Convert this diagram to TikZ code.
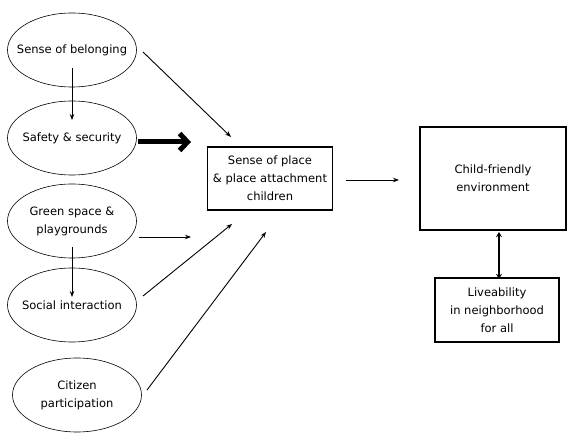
\documentclass[tikz,border=0pt]{standalone}
\usepackage{fontspec}
\setmainfont{DejaVu Sans}
\usetikzlibrary{shapes.geometric,arrows.meta}
\begin{document}
\begin{tikzpicture}[x=1pt,y=-1pt,
  txt/.style={font=\fontsize{11.5}{18}\selectfont, align=center},
  ovaltxt/.style={inner sep=0pt, txt},
  ovalline/.style={line width=0.6pt},
  boxnode/.style={rectangle, draw, line width=1.1pt, inner sep=0pt, txt},
  arr/.style={line width=0.9pt, -{Stealth[length=6pt,width=4.5pt]}},
  bigarr/.style={line width=5pt, -{Straight Barb[length=8pt,width=17pt]}},
  dblarr/.style={line width=2pt, {Stealth[length=5pt,width=6pt]}-{Stealth[length=5pt,width=6pt]}}
]
\useasboundingbox (0,0) rectangle (571,435);
\fill[white] (0,0) rectangle (571,435);

\node[ovaltxt] (e1) at (72,50) {Sense of belonging};
\node[ovaltxt] (e2) at (72,138) {Safety \& security};
\node[ovaltxt] (e3) at (72,221) {Green space \&\\playgrounds};
\node[ovaltxt] (e4) at (72,305) {Social interaction};
\node[ovaltxt] (e5) at (77,395) {Citizen\\participation};
\foreach \n in {e1,e2,e3,e4,e5}
  \draw[ovalline] (\n.center) ellipse [x radius=64.5pt, y radius=37pt];

\node[boxnode, minimum width=125pt, minimum height=63pt] (sp) at (270,178.5) {Sense of place\\\& place attachment\\children};
\node[boxnode, minimum width=146pt, minimum height=103pt] (cf) at (493,178.5) {Child-friendly\\environment};
\node[boxnode, minimum width=124pt, minimum height=64pt] (lv) at (497,310) {Liveability\\in neighborhood\\for all};

\coordinate (a1s) at (72,68); \coordinate (a1e) at (72,120);
\draw[arr] (a1s) -- (a1e);
\coordinate (b1s) at (143,52); \coordinate (b1e) at (231,137);
\draw[arr] (b1s) -- (b1e);
\coordinate (c1s) at (138,142); \coordinate (c1e) at (191,142);
\draw[bigarr] (c1s) -- (c1e);
\coordinate (d1s) at (139,237); \coordinate (d1e) at (191,237);
\draw[arr] (d1s) -- (d1e);
\coordinate (f1s) at (72,247); \coordinate (f1e) at (72,297);
\draw[arr] (f1s) -- (f1e);
\coordinate (g1s) at (143,296); \coordinate (g1e) at (232,224);
\draw[arr] (g1s) -- (g1e);
\coordinate (h1s) at (147,390); \coordinate (h1e) at (266,232);
\draw[arr] (h1s) -- (h1e);
\coordinate (i1s) at (346,180); \coordinate (i1e) at (399,180);
\draw[arr] (i1s) -- (i1e);
\draw[dblarr] (cf.south -| 499,0) ++(0,1.5) -- ([yshift=-1.5pt]lv.north -| 499,0);
\end{tikzpicture}
\end{document}
